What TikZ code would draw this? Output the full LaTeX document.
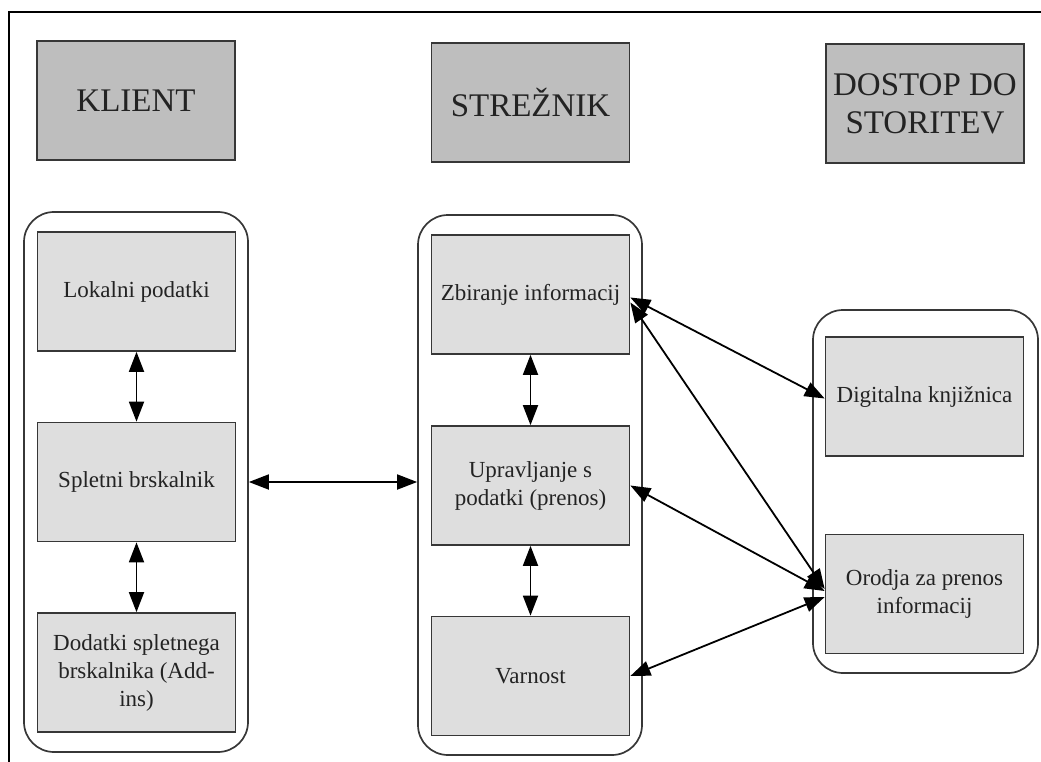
\documentclass[tikz,border=0pt]{standalone}
\usepackage{fontspec}
\setmainfont{Liberation Serif}
\usetikzlibrary{arrows.meta}

\definecolor{headfill}{RGB}{190,190,190}
\definecolor{boxfill}{RGB}{222,222,222}
\definecolor{edge}{RGB}{55,55,55}
\definecolor{ink}{RGB}{35,35,35}

\begin{document}
\begin{tikzpicture}[x=1pt,y=-1pt,
  header/.style={draw=edge, line width=1.8pt, fill=headfill,
    minimum width=198pt, minimum height=119pt, inner sep=0pt,
    align=center, text=ink, font=\fontsize{33}{38}\selectfont},
  item/.style={draw=edge, line width=1.7pt, fill=boxfill,
    minimum width=198pt, minimum height=119pt, inner sep=0pt,
    align=center, text=ink, font=\fontsize{23}{28}\selectfont},
  group/.style={draw=edge, line width=1.7pt, rounded corners=30pt,
    inner sep=0pt},
  link/.style={{Triangle[length=20pt,width=15pt]}-{Triangle[length=20pt,width=15pt]},
    line width=1.8pt, draw=black},
  frame/.style={line width=2.2pt, draw=black}]

\useasboundingbox (0,0) rectangle (1041,762);

% page frame (top and left rules)
\draw[frame] (9,762) -- (9,12) -- (1041,12);

% column headers
\node[header] (klient)  at (136,100.5) {KLIENT};
\node[header] (streznik) at (530.5,102.5) {STREŽNIK};
\node[header] (dostop)  at (925,103.5) {DOSTOP DO\\STORITEV};

% rounded group frames
\node[group, minimum width=224pt, minimum height=540pt] (leftc)  at (136,482) {};
\node[group, minimum width=224pt, minimum height=540pt] (midc)   at (530,485) {};
\node[group, minimum width=225pt, minimum height=363pt] (rightc) at (925.5,491.5) {};

% client column
\node[item] (lokalni) at (136.5,291.5) {Lokalni podatki};
\node[item] (spletni) at (136.5,482)   {Spletni brskalnik};
\node[item] (dodatki) at (136.5,672.5) {Dodatki spletnega\\brskalnika (Add-\\ins)};

% server column
\node[item] (zbir)  at (530.5,294.5) {Zbiranje informacij};
\node[item] (upr)   at (530.5,485.5) {Upravljanje s\\podatki (prenos)};
\node[item] (varn)  at (530.5,676)   {Varnost};

% service column
\node[item] (digi)  at (924.5,396.5) {Digitalna knjižnica};
\node[item] (orod)  at (924.5,594)   {Orodja za prenos\\informacij};

% links inside columns
\draw[link] (lokalni.south) -- (spletni.north);
\draw[link] (spletni.south) -- (dodatki.north);
\draw[link] (zbir.south) -- (upr.north);
\draw[link] (upr.south) -- (varn.north);

% client to server
\draw[link] (leftc.east |- spletni.east) -- (midc.west |- spletni.east);

% server to services
\draw[link] ([yshift=-3pt]zbir.east) -- ([yshift=-2pt]digi.west);
\draw[link] ([yshift=-8pt]zbir.east) -- ([yshift=5pt]orod.west);
\draw[link] (upr.east) -- ([yshift=3pt]orod.west);
\draw[link] (varn.east) -- ([yshift=-3pt]orod.west);
\end{tikzpicture}
\end{document}
